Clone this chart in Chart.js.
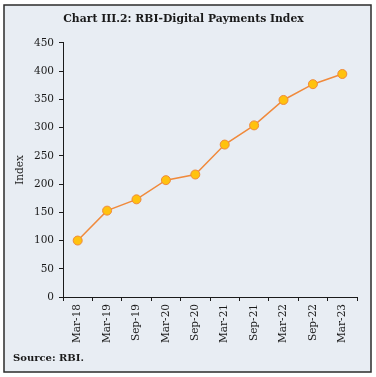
<!DOCTYPE html>
<html>
<head>
<meta charset="utf-8">
<script src="https://cdn.jsdelivr.net/npm/chart.js@4"></script>
<style>
  body { margin: 0; background: #fff; }
  #wrap { position: relative; width: 376px; height: 377px; }
</style>
</head>
<body>
<div id="wrap"><canvas id="dpi-chart" width="376" height="377"></canvas></div>
<script>
// Chart data
const periods = ["Mar-18", "Mar-19", "Sep-19", "Mar-20", "Sep-20", "Mar-21", "Sep-21", "Mar-22", "Sep-22", "Mar-23"];
const indexValues = [100, 153, 173, 207, 217, 270, 304, 349, 377, 395];
const yTicks = [0, 50, 100, 150, 200, 250, 300, 350, 400, 450];

const serif = "'DejaVu Serif', serif";

// background, border and source note
const framePlugin = {
  id: "frame",
  beforeDraw(chart) {
    const c = chart.ctx;
    c.save();
    c.fillStyle = "#e8edf3";
    c.fillRect(4, 5, 367, 367);
    c.strokeStyle = "#2b2b2b";
    c.lineWidth = 1.5;
    c.strokeRect(4, 5, 367, 367);
    c.restore();
  },
  afterDraw(chart) {
    const c = chart.ctx;
    c.save();
    c.fillStyle = "#1a1a1a";
    c.font = "bold 10px " + serif;
    c.textBaseline = "middle";
    c.fillText("Source: RBI.", 13, 358);
    c.restore();
  }
};

function priceChart() {
  const ctx = document.getElementById("dpi-chart");

  new Chart(ctx, {
    type: "line",
    data: {
      labels: periods,
      datasets: [
        {
          label: "RBI-DPI",
          data: indexValues,
          borderColor: "#f08a3c",
          borderWidth: 1.5,
          backgroundColor: "#ffc20e",
          pointBackgroundColor: "#ffc20e",
          pointBorderColor: "#f08a3c",
          pointBorderWidth: 1,
          pointRadius: 4.5,
          tension: 0,
        },
      ],
    },
    options: {
      responsive: false,
      animation: false,
      layout: { padding: { left: 10, right: 19, top: 0, bottom: 30 } },
      plugins: {
        legend: { display: false },
        tooltip: { enabled: false },
        title: {
          display: true,
          text: "Chart III.2: RBI-Digital Payments Index",
          color: "#1a1a1a",
          font: { family: serif, size: 10.8, weight: "bold", lineHeight: 1.2 },
          padding: { top: 13, bottom: 17 },
        },
      },
      scales: {
        x: {
          offset: true,
          grid: { offset: true, drawOnChartArea: false, drawTicks: true, tickLength: 4, color: "#1a1a1a" },
          border: { display: true, color: "#1a1a1a", width: 1 },
          ticks: {
            color: "#1a1a1a",
            font: { family: serif, size: 10.5 },
            minRotation: 90,
            maxRotation: 90,
            autoSkip: false,
            padding: 3,
          },
          afterFit(scale) { scale.height = 50; },
        },
        y: {
          min: 0,
          max: 450,
          afterBuildTicks(scale) { scale.ticks = yTicks.map((v) => ({ value: v })); },
          grid: { drawOnChartArea: false, drawTicks: true, tickLength: 4, color: "#1a1a1a" },
          border: { display: true, color: "#1a1a1a", width: 1 },
          ticks: {
            color: "#1a1a1a",
            font: { family: serif, size: 10.5 },
            padding: 5,
          },
          title: {
            display: true,
            text: "Index",
            color: "#1a1a1a",
            font: { family: serif, size: 10.5 },
            padding: { top: 4, bottom: 0 },
          },
          afterFit(scale) { scale.width = 53; },
        },
      },
    },
    plugins: [framePlugin],
  });
}

document.addEventListener("DOMContentLoaded", () => {
  priceChart();
});
</script>
</body>
</html>
